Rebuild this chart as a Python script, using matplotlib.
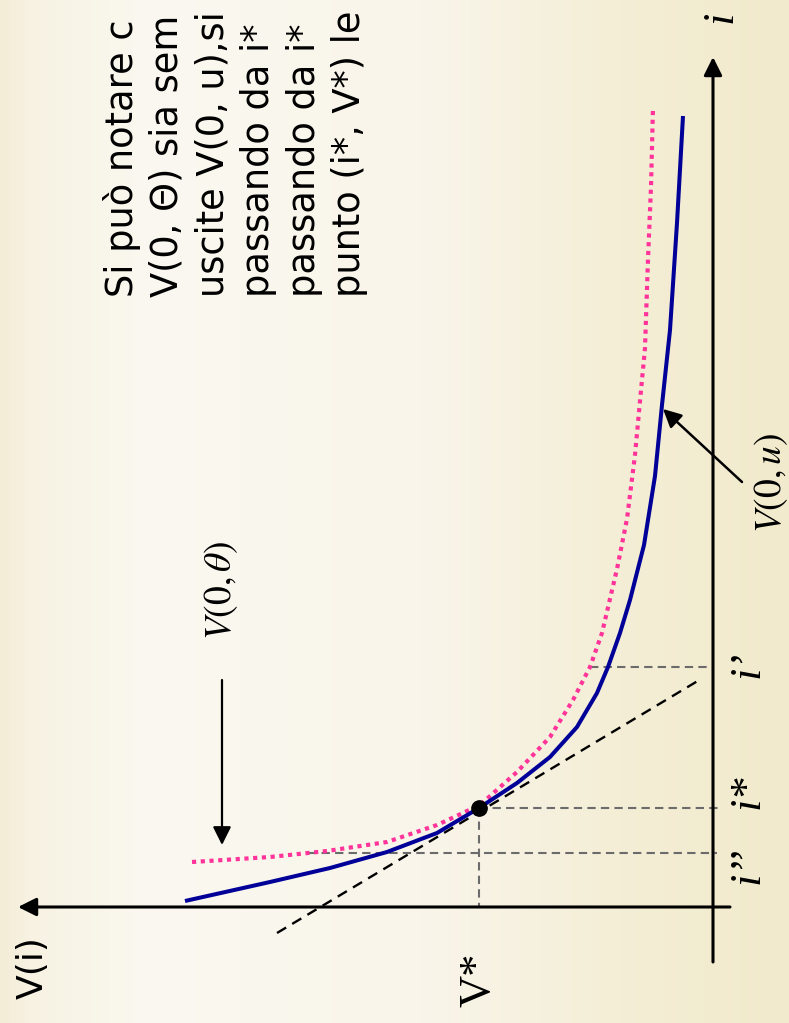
import numpy as np
import matplotlib.pyplot as plt

# slide is rotated 90 deg: x axis of the plot = V (grows leftwards), y axis = i
# curve V(0,u)
i_u = [6, 25, 39, 55, 74, 99, 124, 150, 180, 214, 240, 274, 307, 362, 431, 502, 577, 684, 791]
v_u = [528, 443, 383, 326, 276, 234, 196, 163, 136, 116, 105, 93, 83, 69, 58, 51, 43, 36, 30]

# curve V(0,theta)
i_th = [45, 50, 56, 65, 82, 102, 135, 170, 207, 240, 274, 338, 388, 452, 506, 559, 648, 720, 800]
v_th = [521, 443, 386, 326, 276, 233, 196, 163, 140, 123, 111, 96, 86, 78, 73, 68, 65, 62, 60]

# special points
i_star, v_star = 99, 234
i_p = 240    # i'
i_pp = 54    # i''
tangent_i = [-26, 228]
tangent_v = [436, 12]

tick_labels = ["i\u2019", "i*", "i\u2019\u2019"]
tick_label_pos = [243, 115, 42]

body = [
    "Si può notare c",
    "V(0, \u0398) sia sem",
    "uscite V(0, u),si",
    "passando da i*",
    "passando da i*",
    "punto (i*, V*) le",
]

fig = plt.figure(figsize=(7.89, 10.23), dpi=100)
ax = fig.add_axes([0, 0, 1, 1])
ax.set_xlim(713, -76)
ax.set_ylim(-116, 907)
ax.axis("off")

# background gradient
stops = [0, 30, 150, 420, 620, 789]
cols = np.array([[243, 236, 214], [247, 242, 226], [250, 248, 240],
                 [249, 245, 234], [244, 238, 214], [241, 234, 204]]) / 255
xs = np.arange(789)
grad = np.stack([np.interp(xs, stops, cols[:, k]) for k in range(3)], axis=-1)
ax.imshow(grad[None, :, :], extent=[713, -76, -116, 907], aspect="auto", zorder=0)

# axes with arrows
head = "-|>,head_length=0.5,head_width=0.25"
ax.annotate("", xy=(695, 0), xytext=(-17, 0),
            arrowprops=dict(arrowstyle=head, lw=2.2, color="black",
                            mutation_scale=22, shrinkA=0, shrinkB=0), zorder=3)
ax.annotate("", xy=(0, 850), xytext=(0, -55),
            arrowprops=dict(arrowstyle=head, lw=2.2, color="black",
                            mutation_scale=22, shrinkA=0, shrinkB=0), zorder=3)

# guide lines
gray = dict(color="#6b6b6b", lw=1.5, ls=(0, (4, 2.5)), zorder=2)
v_p = np.interp(i_p, i_th, v_th)
v_pp = np.interp(i_pp, i_th, v_th)
ax.plot([v_p, 5], [i_p, i_p], **gray)
ax.plot([v_star, -7], [i_star, i_star], **gray)
ax.plot([v_pp, -4], [i_pp, i_pp], **gray)
ax.plot([v_star, v_star], [i_star, 0], **gray)
ax.plot(tangent_v, tangent_i, color="black", lw=1.7, ls=(0, (4.5, 3)), zorder=2)

# curves
ax.plot(v_th, i_th, color="#ff3399", lw=3, ls=(0, (1, 1.1)), dash_capstyle="butt", zorder=4)
ax.plot(v_u, i_u, color="#000099", lw=2.9, solid_capstyle="butt", zorder=5)
ax.plot([v_star], [i_star], "o", color="black", ms=11, zorder=6)

# curve labels and pointers
ax.annotate("", xy=(491, 62), xytext=(491, 227),
            arrowprops=dict(arrowstyle=head, lw=1.6, color="black",
                            mutation_scale=22, shrinkA=0, shrinkB=0))
ax.text(492, 317, r"$V(0,\theta)$", rotation=90, ha="center", va="center",
        fontsize=27, math_fontfamily="stix")
ax.annotate("", xy=(50, 498), xytext=(-29, 425),
            arrowprops=dict(arrowstyle=head, lw=1.8, color="black",
                            mutation_scale=22, shrinkA=0, shrinkB=0))
ax.text(-58, 424, r"$V(0,u)$", rotation=90, ha="center", va="center",
        fontsize=27, math_fontfamily="stix")

# tick labels on i axis
for lab, pos in zip(tick_labels, tick_label_pos):
    ax.text(-35, pos, lab, rotation=90, ha="center", va="center",
            fontsize=32, family="Liberation Serif", style="italic")
ax.text(-8, 890, "i", rotation=90, ha="center", va="center",
        fontsize=32, family="Liberation Serif", style="italic")

ax.text(v_star, -73, "V*", rotation=90, ha="center", va="center",
        fontsize=32, family="Liberation Serif")
ax.text(680, -61, "V(i)", rotation=90, ha="center", va="center",
        fontsize=26, family="DejaVu Sans")

# body text, one line per baseline
base_v = [580, 535, 489, 444, 398, 353]
for line, bv in zip(body, base_v):
    ax.text(bv, 610, line, rotation=90, rotation_mode="anchor",
            ha="left", va="baseline", fontsize=26.5, family="DejaVu Sans")

fig.savefig("out.png", dpi=100)
